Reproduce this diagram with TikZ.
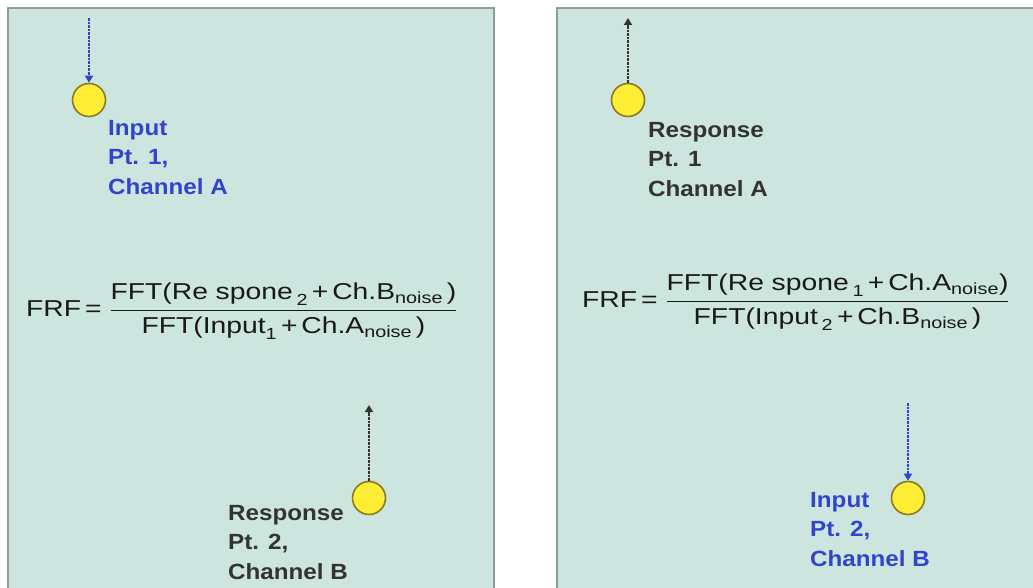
\documentclass[tikz,border=0pt]{standalone}
\usepackage{fontspec}
\usepackage{amsmath}
\setmainfont{Liberation Sans}
\newfontfamily\labelfont[FakeStretch=1.1]{Liberation Sans}
\newfontfamily\formfont[FakeStretch=1.23]{Liberation Sans}
\usetikzlibrary{arrows.meta}
\definecolor{panelbg}{HTML}{CDE5DF}
\definecolor{panelborder}{HTML}{8C9C98}
\definecolor{inblue}{HTML}{3344CC}
\definecolor{resgray}{HTML}{333333}
\definecolor{dotyellow}{HTML}{FFEE33}
\definecolor{dotedge}{HTML}{8A7A20}
\tikzset{
  panel/.style={draw=panelborder, line width=1.2pt, fill=panelbg},
  pointdot/.style={circle, minimum size=33pt, inner sep=0pt, fill=dotyellow, draw=dotedge, line width=1.6pt},
  inarrow/.style={draw=inblue, densely dotted, line width=2.6pt, -{Triangle[width=8pt,length=7pt]}},
  resarrow/.style={draw=resgray, densely dotted, line width=2.6pt, -{Triangle[width=8pt,length=7pt]}},
  inlabel/.style={anchor=north west, inner sep=0pt, align=left, text=inblue, font=\labelfont\bfseries\fontsize{22}{29.5}\selectfont},
  reslabel/.style={anchor=north west, inner sep=0pt, align=left, text=resgray, font=\labelfont\bfseries\fontsize{22}{29.5}\selectfont},
  formula/.style={anchor=west, inner sep=0pt, text=black!90, font=\formfont\fontsize{23}{27}\selectfont},
}
\begin{document}
\begin{tikzpicture}[x=1pt,y=-1pt]
\path[use as bounding box] (0,0) rectangle (1033,588);
\fill[white] (0,0) rectangle (1033,588);
\begin{scope}
\clip (0,0) rectangle (1033,588);
\draw[panel] (8,8) rectangle (494,600);
\draw[panel] (557,8) rectangle (1045,600);
\end{scope}

% left panel
\node[pointdot] (c1) at (89,100) {};
\coordinate (s1) at (89,18);
\draw[inarrow] (s1) -- (c1.north);
\node[inlabel] (l1) at (108,120) {Input\\Pt. 1,\\Channel A};

\node[formula] (f1) at (26,311) {FRF\,= $\dfrac{\text{FFT(Re\,\,spone\,}_{\text{2}}\text{\,+\,Ch.B}_{\text{noise}}\text{\,)}}{\text{FFT(Input}_{\text{1}}\text{\,+\,Ch.A}_{\text{noise}}\text{\,)}}$};

\node[pointdot] (c2) at (369,498) {};
\coordinate (s2) at (369,405);
\draw[resarrow] (c2.north) -- (s2);
\node[reslabel] (l2) at (228,505) {Response\\Pt. 2,\\Channel B};

% right panel
\node[pointdot] (c3) at (628,100) {};
\coordinate (s3) at (628,18);
\draw[resarrow] (c3.north) -- (s3);
\node[reslabel] (l3) at (648,122) {Response\\Pt. 1\\Channel A};

\node[formula] (f2) at (582,302) {FRF\,= $\dfrac{\text{FFT(Re\,\,spone\,}_{\text{1}}\text{\,+\,Ch.A}_{\text{noise}}\text{)}}{\text{FFT(Input\,}_{\text{2}}\text{\,+\,Ch.B}_{\text{noise}}\text{\,)}}$};

\node[pointdot] (c4) at (908,498) {};
\coordinate (s4) at (908,403);
\draw[inarrow] (s4) -- (c4.north);
\node[inlabel] (l4) at (810,492) {Input\\Pt. 2,\\Channel B};
\end{tikzpicture}
\end{document}
